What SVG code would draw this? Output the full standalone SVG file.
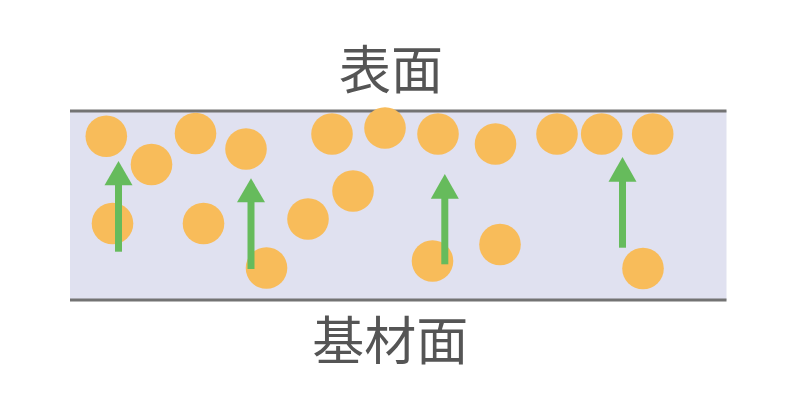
<svg xmlns="http://www.w3.org/2000/svg" width="800" height="400" viewBox="0 0 800 400">
<defs>
<style>
.lbl{font-family:"Noto Sans CJK JP","Noto Sans CJK SC",sans-serif;font-size:52px;fill:#555555;text-anchor:middle}
.p{fill:#f8bc5a}
.edge{stroke:#737373;stroke-width:3}
.shaft{fill:#66bb5c}
</style>
</defs>
<rect x="70" y="111" width="656.5" height="189" fill="#e0e1f0"/>
<line class="edge" x1="70" y1="111" x2="726.5" y2="111"/>
<line class="edge" x1="70" y1="300" x2="726.5" y2="300"/>
<g id="particles">
<circle class="p" cx="106.3" cy="136.3" r="20.8"/>
<circle class="p" cx="151.5" cy="164.5" r="20.8"/>
<circle class="p" cx="195.5" cy="133.5" r="20.8"/>
<circle class="p" cx="246" cy="149" r="20.8"/>
<circle class="p" cx="332" cy="134" r="20.8"/>
<circle class="p" cx="385" cy="128" r="20.8"/>
<circle class="p" cx="438" cy="134" r="20.8"/>
<circle class="p" cx="495.5" cy="144" r="20.8"/>
<circle class="p" cx="557" cy="134" r="20.8"/>
<circle class="p" cx="601.7" cy="134" r="20.8"/>
<circle class="p" cx="652.7" cy="134" r="20.8"/>
<circle class="p" cx="112.5" cy="223.5" r="20.8"/>
<circle class="p" cx="203.5" cy="223.5" r="20.8"/>
<circle class="p" cx="308" cy="219" r="20.8"/>
<circle class="p" cx="353" cy="191" r="20.8"/>
<circle class="p" cx="266.5" cy="268" r="20.8"/>
<circle class="p" cx="432.5" cy="261" r="20.8"/>
<circle class="p" cx="500" cy="244.5" r="20.8"/>
<circle class="p" cx="643" cy="268.5" r="20.8"/>
</g>
<g id="arrows">
<g id="arrow1"><rect class="shaft" x="115" y="184" width="7" height="67.7"/><polygon class="shaft" points="118.5,161 132.5,185.3 104.5,185.3"/></g>
<g id="arrow2"><rect class="shaft" x="247.5" y="201" width="7" height="68"/><polygon class="shaft" points="251,178.3 265,202.3 237,202.3"/></g>
<g id="arrow3"><rect class="shaft" x="441.3" y="197.5" width="7" height="66.8"/><polygon class="shaft" points="444.8,174 458.8,198.7 430.8,198.7"/></g>
<g id="arrow4"><rect class="shaft" x="619" y="180.5" width="7" height="67.2"/><polygon class="shaft" points="622.5,157 636.5,181.7 608.5,181.7"/></g>
</g>
<g id="label-top"><text class="lbl" x="391" y="89">表面</text></g>
<g id="label-bottom"><text class="lbl" x="390.3" y="360">基材面</text></g>
</svg>
